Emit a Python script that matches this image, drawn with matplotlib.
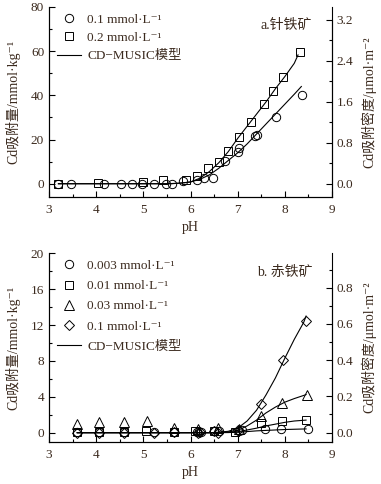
import matplotlib
matplotlib.use("Agg")
import matplotlib.pyplot as plt
from matplotlib.ticker import MultipleLocator
from matplotlib.lines import Line2D

plt.rcParams['font.family'] = ['Liberation Serif', 'Noto Sans CJK SC', 'DejaVu Serif']
plt.rcParams['font.size'] = 9.5

TXT = '#3b2a1e'

# ---- panel a: goethite ----
a_ph_01 = [3.19, 3.46, 4.17, 4.52, 4.77, 4.98, 5.22, 5.47, 5.60, 5.84, 6.13, 6.29, 6.47,
           6.74, 7.00, 7.02, 7.37, 7.41, 7.82, 8.37]
a_q_01 = [0, 0, 0, 0, 0, 0, 0, 0, 0, 1.2, 1.5, 2.7, 2.7, 10.2, 14.5, 16.0, 21.5, 22.2, 30.0, 40.0]
a_ph_02 = [3.19, 4.03, 5.00, 5.42, 5.90, 6.14, 6.37, 6.60, 6.80, 7.02, 7.28, 7.55, 7.74, 7.96, 8.33]
a_q_02 = [0, 0.4, 0.75, 1.5, 1.5, 3.4, 6.9, 9.8, 14.7, 21.0, 27.8, 36.0, 42.0, 48.5, 59.5]

a_mod_ph_01 = [3.2, 5.6, 5.8, 6.0, 6.2, 6.4, 6.6, 6.8, 7.0, 7.2, 7.4, 7.6, 7.8, 8.0, 8.2, 8.35]
a_mod_q_01 = [0, 0, 0.3, 0.8, 2.0, 4.0, 7.0, 10.5, 14.0, 18.0, 22.5, 27.0, 31.5, 36.0, 40.5, 44.0]
a_mod_ph_02 = [3.2, 5.5, 5.8, 6.0, 6.2, 6.4, 6.6, 6.8, 7.0, 7.2, 7.4, 7.6, 7.8, 8.0, 8.2, 8.28]
a_mod_q_02 = [0, 0, 0.3, 0.8, 2.5, 5.5, 9.5, 14.5, 20.5, 26.0, 31.5, 37.0, 43.0, 48.5, 54.5, 58.3]

# ---- panel b: hematite ----
b_ph_003 = [3.60, 4.06, 4.60, 5.22, 5.66, 6.13, 6.22, 6.50, 6.60, 7.03, 7.10, 7.59, 7.92, 8.50]
b_q_003 = [0.05, 0.05, 0.05, 0.05, 0.05, 0.1, 0.1, 0.2, 0.15, 0.2, 0.3, 0.37, 0.4, 0.4]
b_ph_001 = [3.60, 4.06, 4.60, 5.05, 5.66, 6.10, 6.50, 6.95, 7.50, 7.93, 8.45]
b_q_001 = [0.05, 0.05, 0.1, 0.15, 0.1, 0.15, 0.15, 0.1, 1.05, 1.35, 1.4]
b_ph_003b = [3.60, 4.06, 4.60, 5.07, 5.66, 6.15, 6.59, 7.02, 7.50, 7.95, 8.48]
b_q_003b = [0.93, 1.23, 1.23, 1.30, 0.48, 0.37, 0.48, 0.37, 1.86, 3.35, 4.20]
b_ph_01 = [3.60, 4.06, 4.60, 5.23, 5.66, 6.15, 6.20, 6.50, 6.59, 7.00, 7.50, 7.97, 8.45]
b_q_01 = [0, 0, 0, 0, 0.1, 0, 0.1, 0.2, 0, 0.3, 3.2, 8.1, 12.45]

b_mod_ph = [3.6, 6.5, 6.8, 7.0, 7.2, 7.4, 7.6, 7.8, 8.0, 8.2, 8.4, 8.45]
b_mod_01 = [0, 0, 0.15, 0.5, 1.3, 2.5, 4.2, 6.1, 8.3, 10.4, 12.3, 13.0]
b_mod_003b = [0, 0, 0.08, 0.25, 0.75, 1.4, 2.2, 2.85, 3.4, 3.8, 4.15, 4.25]
b_mod_001 = [0, 0, 0.03, 0.1, 0.3, 0.5, 0.75, 0.95, 1.15, 1.3, 1.38, 1.4]
b_mod_0003 = [0, 0, 0.01, 0.05, 0.12, 0.2, 0.25, 0.3, 0.35, 0.38, 0.41, 0.42]

fig = plt.figure(figsize=(3.81, 4.84), dpi=100)


def style_axes(ax, ax2, ylim, ytop, y2lim, y2top, ymaj, ymin, y2maj, y2min):
    ax.set_xlim(3, 9)
    ax.set_ylim(*ylim)
    ax2.set_ylim(*y2lim)
    for a in (ax, ax2):
        a.spines['top'].set_visible(False)
    ax.spines['left'].set_bounds(ylim[0], ytop)
    ax2.spines['right'].set_bounds(y2lim[0], y2top)
    ax.xaxis.set_major_locator(MultipleLocator(1))
    ax.xaxis.set_minor_locator(MultipleLocator(0.5))
    ax.yaxis.set_major_locator(MultipleLocator(ymaj))
    ax.yaxis.set_minor_locator(MultipleLocator(ymin))
    ax2.yaxis.set_major_locator(MultipleLocator(y2maj))
    ax2.yaxis.set_minor_locator(MultipleLocator(y2min))
    ax.set_yticks([t for t in ax.get_yticks() if 0 <= t <= ytop + 1e-9])
    ax2.set_yticks([t for t in ax2.get_yticks() if 0 <= t <= y2top + 1e-9])
    for a in (ax, ax2):
        a.tick_params(which='both', direction='in', colors='black', labelcolor=TXT, labelsize=9.5)
        a.tick_params(which='major', length=4, width=0.8)
        a.tick_params(which='minor', length=2.5, width=0.8)
    ax.tick_params(axis='x', pad=5)
    ax.set_xlabel('pH', color=TXT, fontsize=10, labelpad=4)
    ax.set_ylabel('Cd吸附量/mmol·kg⁻¹', color=TXT, fontsize=10)
    ax2.set_ylabel('Cd吸附密度/μmol·m⁻²', color=TXT, fontsize=10)
    ax.yaxis.set_label_coords(-0.100, 0.5)
    ax2.yaxis.set_label_coords(1.104, 0.5)


mk = dict(linestyle='none', fillstyle='none', color='black', markeredgewidth=0.7)
ln = dict(color='black', linewidth=0.8)

# panel a
ax = fig.add_axes([0.1286, 0.593, 0.7428, 0.3926])
ax2 = ax.twinx()
ax.plot(a_mod_ph_01, a_mod_q_01, **ln)
ax.plot(a_mod_ph_02, a_mod_q_02, **ln)
ax.plot(a_ph_01, a_q_01, marker='o', markersize=6, **mk)
ax.plot(a_ph_02, a_q_02, marker='s', markersize=5.5, **mk)
style_axes(ax, ax2, (-6, 80), 80, (-0.254, 3.454), 3.2, 20, 10, 0.8, 0.4)
handles = [Line2D([], [], marker='o', markersize=6, **mk),
           Line2D([], [], marker='s', markersize=5.5, **mk),
           Line2D([], [], **ln)]
labels = ['0.1 mmol·L⁻¹', '0.2 mmol·L⁻¹', 'CD−MUSIC模型']
leg = ax.legend(handles, labels, loc='upper left', bbox_to_anchor=(0.005, 1.0), frameon=False,
                fontsize=9.5, handlelength=1.8, handletextpad=0.5, labelspacing=0.45, borderaxespad=0.1)
for t in leg.get_texts():
    t.set_color(TXT)
ax.text(0.93, 0.9, 'a.针铁矿', transform=ax.transAxes, ha='right', va='center', color=TXT, fontsize=10)

# panel b
bx = fig.add_axes([0.1286, 0.0868, 0.7428, 0.3899])
bx2 = bx.twinx()
for y in (b_mod_01, b_mod_003b, b_mod_001, b_mod_0003):
    bx.plot(b_mod_ph, y, **ln)
bx.plot(b_ph_003, b_q_003, marker='o', markersize=6, **mk)
bx.plot(b_ph_001, b_q_001, marker='s', markersize=5.5, **mk)
bx.plot(b_ph_003b, b_q_003b, marker='^', markersize=6.5, **mk)
bx.plot(b_ph_01, b_q_01, marker='D', markersize=5, **mk)
style_axes(bx, bx2, (-1.04, 20), 20, (-0.052, 0.99), 0.8, 4, 2, 0.2, 0.1)
handles = [Line2D([], [], marker='o', markersize=6, **mk),
           Line2D([], [], marker='s', markersize=5.5, **mk),
           Line2D([], [], marker='^', markersize=6.5, **mk),
           Line2D([], [], marker='D', markersize=5, **mk),
           Line2D([], [], **ln)]
labels = ['0.003 mmol·L⁻¹', '0.01 mmol·L⁻¹', '0.03 mmol·L⁻¹',
          '0.1 mmol·L⁻¹', 'CD−MUSIC模型']
leg = bx.legend(handles, labels, loc='upper left', bbox_to_anchor=(0.005, 1.0), frameon=False,
                fontsize=9.5, handlelength=1.8, handletextpad=0.5, labelspacing=0.6, borderaxespad=0.1)
for t in leg.get_texts():
    t.set_color(TXT)
bx.text(0.93, 0.9, 'b. 赤铁矿', transform=bx.transAxes, ha='right', va='center', color=TXT, fontsize=10)

fig.savefig('out.png', dpi=100)
